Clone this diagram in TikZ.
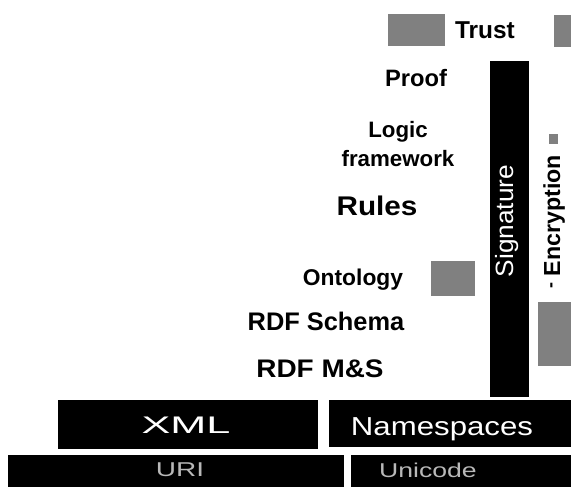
\documentclass[tikz,border=0pt]{standalone}
\usepackage{fontspec}
\setmainfont{Liberation Sans}
\newcommand{\fsz}[1]{\fontsize{#1}{#1}\selectfont}
\newcommand{\sx}[2]{\scalebox{#1}[1]{#2}}
\begin{document}
\begin{tikzpicture}[x=1pt,y=-1pt,
  lbl/.style={anchor=base,inner sep=0pt,text=black,font=\bfseries},
  blk/.style={fill=black,draw=none,inner sep=0pt},
  wlbl/.style={anchor=base,inner sep=0pt,text=white},
  glbl/.style={anchor=base,inner sep=0pt,text=black!28},
  noise/.style={fill=black!50,draw=none}]
\useasboundingbox (0,0) rectangle (571,487);
\fill[white] (0,0) rectangle (571,487);

% scan noise patches
\path[noise] (388,14) rectangle (445,46);
\path[noise] (554,15) rectangle (571,47);
\path[noise] (431,261) rectangle (475,296);
\path[noise] (538,302) rectangle (571,366);
\path[noise] (549,134) rectangle (558,144);

% stack labels
\node[lbl] (trust) at (485,39) {\fsz{24.4}Trust};
\node[lbl] (proof) at (416,87) {\fsz{23.7}Proof};
\node[lbl] (logic) at (398,137) {\fsz{22.3}Logic};
\node[lbl] (frame) at (398,167) {\fsz{22.3}framework};
\node[lbl] (rules) at (377,215) {\fsz{27}\sx{1.1}{Rules}};
\node[lbl] (onto) at (353,285) {\fsz{22.8}Ontology};
\node[lbl] (rdfs) at (326,330) {\fsz{25.4}RDF Schema};
\node[lbl] (rdfms) at (320,377) {\fsz{25.4}\sx{1.1}{RDF M\&S}};

% signature bar
\node[blk, minimum width=39pt, minimum height=336pt] (sigbar) at (509.5,229) {};
\node[wlbl, rotate=90] (sig) at (513,221) {\fsz{25}\sx{1.05}{Signature}};
\node[lbl, rotate=90] (enc) at (560,215.5) {\fsz{23.2}Encryption};
\node[lbl, rotate=90] (dash) at (556,286) {\fsz{18}{-}};

% bottom layers
\node[blk, minimum width=260pt, minimum height=49pt] (xmlbox) at (188,424.5) {};
\node[wlbl] (xml) at (186,433) {\fsz{24}\sx{1.8}{XML}};
\node[blk, minimum width=242pt, minimum height=47pt] (nsbox) at (450,423.5) {};
\node[wlbl] (ns) at (442,435) {\fsz{26}\sx{1.2}{Namespaces}};
\node[blk, minimum width=336pt, minimum height=34pt] (uribox) at (176,472) {};
\node[glbl] (uri) at (180,476) {\fsz{20}\sx{1.4}{URI}};
\node[blk, minimum width=220pt, minimum height=34pt] (unibox) at (461,472) {};
\node[glbl] (uni) at (428,477) {\fsz{20}\sx{1.33}{Unicode}};
\end{tikzpicture}
\end{document}
